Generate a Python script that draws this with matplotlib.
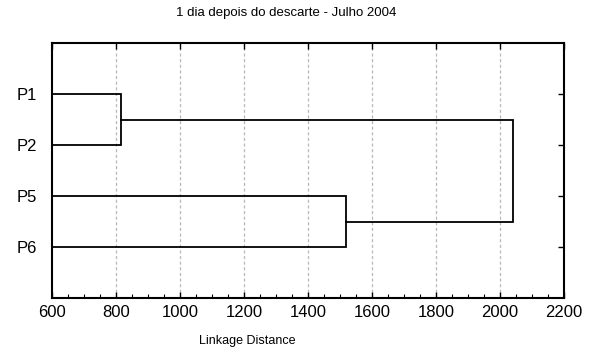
import matplotlib
matplotlib.use("Agg")
import matplotlib.pyplot as plt
from matplotlib.ticker import MultipleLocator

plt.rcParams['font.family'] = ['Liberation Sans', 'DejaVu Sans']

leaves = ['P1', 'P2', 'P5', 'P6']
# merges: (left member, right member, height); members are leaf indices or 'cN' for earlier clusters
merge_left = [0, 2, 'c0']
merge_right = [1, 3, 'c1']
merge_height = [815, 1518, 2040]
x_ticks = [600, 800, 1000, 1200, 1400, 1600, 1800, 2000, 2200]

title = "1 dia depois do descarte - Julho 2004"
xlabel = "Linkage Distance"

fig = plt.figure(figsize=(5.94, 3.52), dpi=100)
ax = fig.add_axes([52/594, 1-298/352, 512/594, 255/352])

xmin, xmax = x_ticks[0], x_ticks[-1]
ax.set_xlim(xmin, xmax)
ax.set_ylim(5, 0)

pos = {}
hgt = {}
for i, _ in enumerate(leaves):
    pos[i] = i + 1
    hgt[i] = xmin
lw = 1.3
for k, (a, b, h) in enumerate(zip(merge_left, merge_right, merge_height)):
    ya, yb = pos[a], pos[b]
    ax.plot([hgt[a], h, h, hgt[b]], [ya, ya, yb, yb], color='black', lw=lw,
            solid_joinstyle='miter', zorder=3)
    key = 'c%d' % k
    pos[key] = (ya + yb) / 2
    hgt[key] = h

ax.set_xticks(x_ticks)
ax.xaxis.set_minor_locator(MultipleLocator(50))
ax.set_yticks(range(1, len(leaves) + 1))
ax.set_yticklabels(leaves)
ax.tick_params(axis='both', which='major', direction='in', length=4, width=1,
               labelsize=12, top=True, right=True)
ax.tick_params(axis='x', which='minor', direction='in', length=3, width=0.8, top=False)
ax.tick_params(axis='y', which='major', left=False, pad=11)
ax.tick_params(axis='x', which='major', pad=5)

for x in x_ticks[1:-1]:
    ax.axvline(x, color='#b8b8b8', lw=0.9, ls=(0, (2.5, 2)), zorder=1)

for s in ax.spines.values():
    s.set_linewidth(1.5)

fig.text(286/594, 1-13/352, title, ha='center', va='center', fontsize=9.5)
fig.text(247/594, 1-341/352, xlabel, ha='center', va='center', fontsize=9)

fig.savefig('out.png', dpi=100)
